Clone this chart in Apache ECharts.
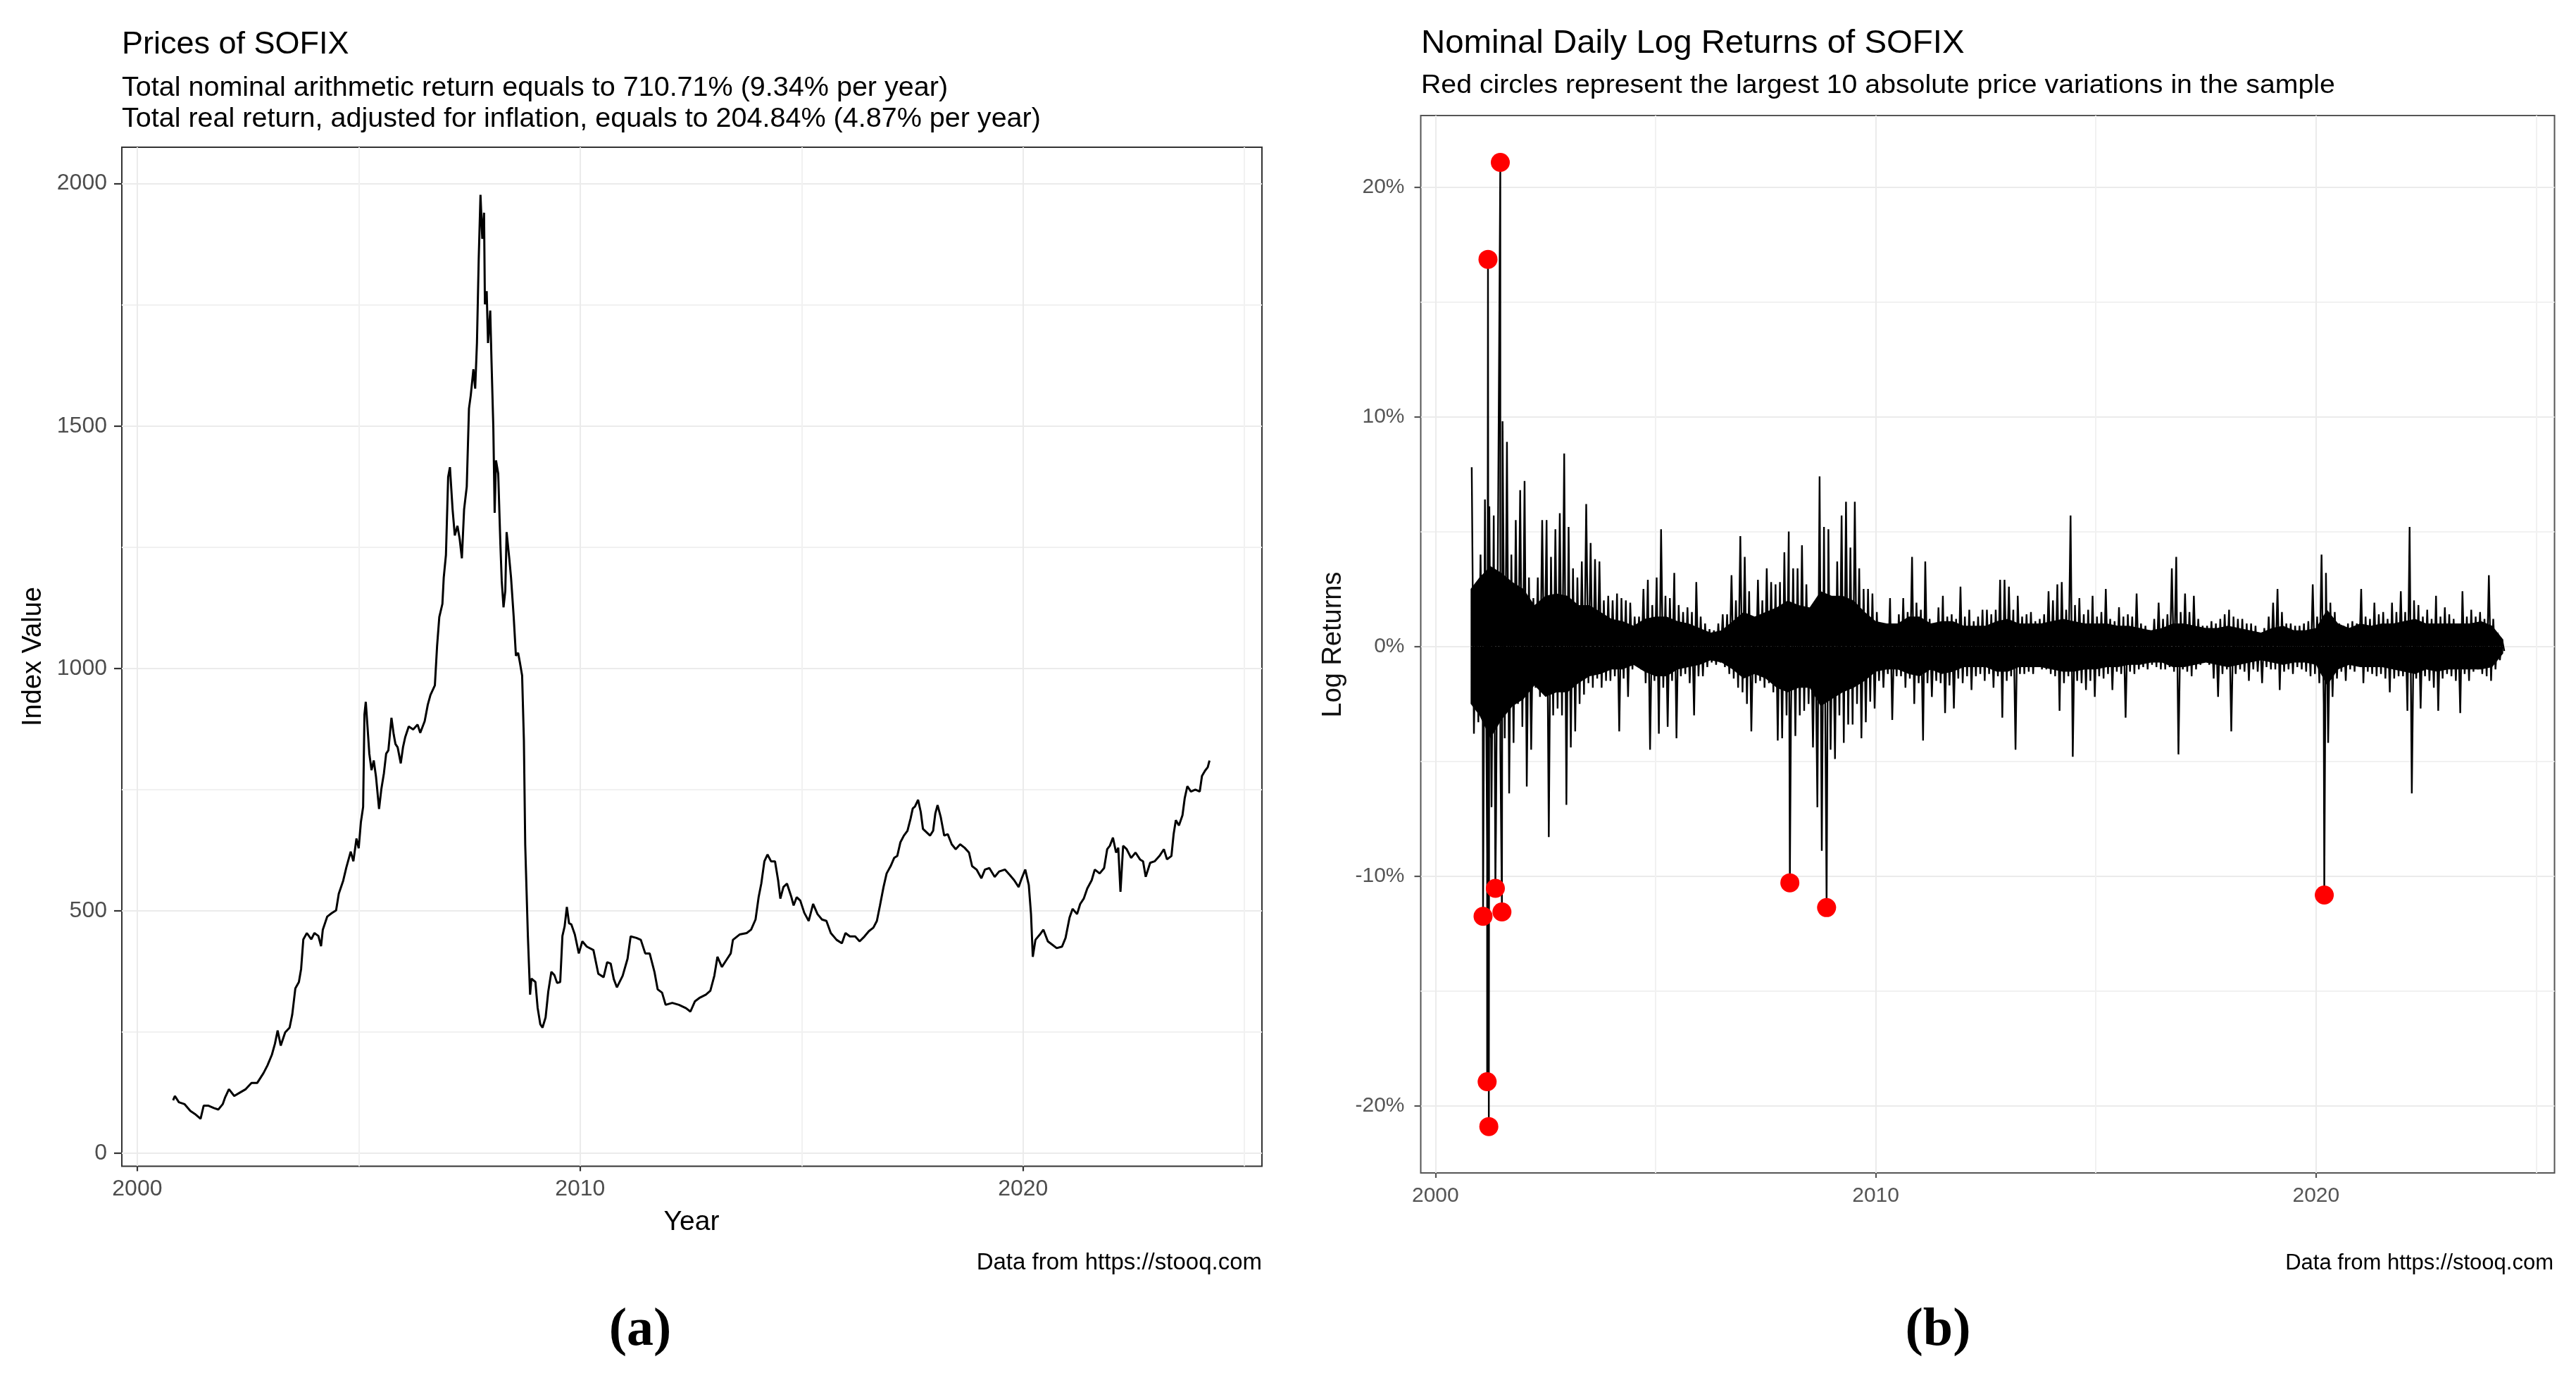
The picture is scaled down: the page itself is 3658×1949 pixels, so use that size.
<!DOCTYPE html>
<html>
<head>
<meta charset="utf-8">
<script src="https://cdn.jsdelivr.net/npm/echarts@6/dist/echarts.min.js"></script>
<style>
html,body{margin:0;padding:0;background:#ffffff;}
#chart{width:3658px;height:1949px;}
</style>
</head>
<body>
<div id="chart"></div>
<script>
// ---------- Panel (a): SOFIX prices ----------
const priceDates = [
  2000.81,2000.85,2000.94,2001.07,2001.20,2001.30,2001.43,2001.50,2001.60,2001.73,2001.83,2001.93,2001.98,
  2002.07,2002.19,2002.32,2002.45,2002.58,2002.71,2002.85,2002.94,
  2003.04,2003.11,2003.17,2003.24,2003.34,2003.44,2003.50,2003.57,2003.65,2003.70,2003.75,2003.83,2003.93,
  2004.00,2004.09,2004.15,2004.19,2004.29,2004.39,2004.49,2004.55,2004.65,2004.72,2004.82,2004.88,2004.95,
  2005.00,2005.05,2005.10,2005.13,2005.16,2005.20,2005.24,2005.29,2005.34,2005.39,2005.46,2005.51,2005.57,2005.62,2005.67,2005.74,2005.79,2005.83,2005.88,2005.95,
  2006.00,2006.05,2006.13,2006.23,2006.33,2006.39,2006.49,2006.56,2006.62,2006.72,2006.77,2006.82,2006.89,2006.92,2006.97,
  2007.02,2007.06,2007.12,2007.17,2007.23,2007.28,2007.33,2007.38,2007.44,2007.49,2007.53,2007.59,2007.63,2007.67,2007.71,2007.75,2007.79,2007.83,2007.85,2007.89,2007.92,2007.97,
  2008.00,2008.04,2008.07,2008.10,2008.15,2008.20,2008.23,2008.27,2008.31,2008.34,2008.40,2008.44,2008.50,2008.55,2008.60,2008.64,2008.69,2008.73,2008.76,2008.79,2008.82,2008.87,2008.90,2008.99,
  2009.04,2009.10,2009.15,2009.22,2009.28,2009.35,2009.42,2009.48,2009.55,2009.60,2009.65,2009.70,2009.75,2009.80,2009.88,2009.97,
  2010.05,2010.15,2010.30,2010.41,2010.53,2010.61,2010.69,2010.76,2010.83,2010.96,
  2011.07,2011.14,2011.27,2011.37,2011.47,2011.57,2011.68,2011.75,2011.85,2011.93,
  2012.08,2012.23,2012.39,2012.49,2012.59,2012.69,2012.84,2012.94,
  2013.03,2013.10,2013.20,2013.30,2013.40,2013.45,2013.60,2013.76,2013.86,2013.96,
  2014.03,2014.09,2014.16,2014.23,2014.31,2014.40,2014.47,2014.52,2014.59,2014.67,2014.77,2014.82,2014.89,2014.97,
  2015.06,2015.16,2015.26,2015.36,2015.46,2015.56,2015.66,2015.79,2015.91,2015.99,
  2016.09,2016.21,2016.31,2016.42,2016.52,2016.62,2016.70,2016.77,2016.85,2016.92,
  2017.01,2017.09,2017.16,2017.23,2017.31,2017.39,2017.46,2017.51,2017.56,2017.63,2017.69,2017.74,2017.82,2017.90,2017.97,
  2018.02,2018.07,2018.14,2018.22,2018.30,2018.39,2018.48,2018.58,2018.68,2018.78,2018.85,2018.95,
  2019.06,2019.14,2019.24,2019.36,2019.46,2019.59,2019.70,2019.80,2019.90,2019.97,
  2020.05,2020.13,2020.18,2020.22,2020.28,2020.38,2020.46,2020.56,2020.66,2020.76,2020.88,2020.96,
  2021.05,2021.12,2021.22,2021.29,2021.37,2021.45,2021.55,2021.62,2021.73,2021.83,2021.90,2021.96,
  2022.03,2022.10,2022.15,2022.20,2022.26,2022.34,2022.44,2022.54,2022.64,2022.71,2022.77,2022.87,2022.97,
  2023.08,2023.18,2023.25,2023.35,2023.40,2023.45,2023.52,2023.60,2023.65,2023.71,2023.79,2023.89,2023.99,
  2024.04,2024.11,2024.17,2024.21
];
const priceValues = [
  109,118,105,101,87,81,71,98,98,93,90,101,114,
  132,118,125,132,145,145,165,181,
  203,226,253,222,249,259,286,340,353,380,441,454,441,
  454,448,427,461,488,495,501,535,562,589,622,602,649,
  629,683,714,905,931,878,824,790,810,777,710,750,784,824,831,898,864,844,837,804,
  837,858,880,874,884,867,891,925,945,965,1046,1106,1133,1187,1234,
  1395,1415,1328,1274,1294,1267,1227,1328,1375,1536,1563,1617,1577,1671,1845,1977,1886,1940,1751,1778,1671,1738,
  1630,1496,1321,1429,1402,1254,1180,1126,1160,1281,1227,1187,1106,1026,1032,1012,985,851,636,542,448,327,360,353,
  300,266,259,280,333,374,367,351,353,448,468,508,474,472,451,412,
  437,426,419,370,363,394,391,359,342,366,
  401,447,444,440,412,412,373,338,331,306,
  310,306,299,292,313,320,327,335,
  366,405,384,398,412,440,451,454,461,482,
  528,556,602,616,602,602,563,525,549,556,528,511,528,521,
  496,479,514,493,482,479,454,440,433,454,
  447,447,437,447,458,465,479,511,549,577,
  592,609,613,641,655,665,690,711,715,729,704,669,662,655,665,
  701,718,694,655,658,637,627,637,630,620,592,585,
  567,585,588,570,581,585,574,563,549,567,
  585,553,493,405,440,451,461,437,430,423,426,444,
  486,504,493,514,525,546,563,585,577,588,627,634,
  651,620,630,539,634,627,609,620,606,602,570,599,602,
  613,627,606,613,658,687,676,697,732,757,746,750,746,
  778,789,796,810
];
const priceYTicks = [0, 500, 1000, 1500, 2000];
const priceYGrid = [0, 250, 500, 750, 1000, 1250, 1500, 1750, 2000];
const yearTicks = [2000, 2010, 2020];
const yearGrid = [2000, 2005, 2010, 2015, 2020, 2025];

// ---------- Panel (b): daily log returns (%), extremes per 0.1-year bin ----------
const retBinStart = 2000.8;
const retBinWidth = 0.1;
const retHi = [
  7.8, 2.4,                                              // 2000.8-2000.9
  4.0, 6.4, 6.1, 5.7, 6.0, 9.8, 8.9, 4.0, 5.5, 6.8,      // 2001
  7.2, 3.0, 2.1, 3.0, 5.5, 5.5, 3.9, 5.1, 5.8, 8.4,      // 2002
  5.2, 3.4, 3.0, 3.7, 6.2, 4.5, 3.8, 3.7, 2.0, 2.2,      // 2003
  2.0, 2.3, 2.1, 2.0, 1.9, 1.3, 1.3, 2.5, 2.9, 1.8,      // 2004
  3.0, 5.1, 2.2, 2.1, 3.2, 1.8, 1.5, 1.7, 1.5, 2.8,      // 2005
  1.3, 1.0, 0.75, 0.7, 1.0, 1.4, 1.4, 3.1, 2.0, 4.8,     // 2006
  3.9, 2.4, 1.2, 2.9, 2.0, 3.4, 2.8, 2.7, 2.8, 4.1,      // 2007
  5.0, 3.4, 3.4, 4.4, 2.7, 1.6, 1.5, 7.4, 5.2, 5.1,      // 2008
  1.9, 3.7, 5.7, 6.3, 4.3, 6.3, 3.4, 2.5, 2.5, 2.3,      // 2009
  1.5, 1.0, 0.7, 2.1, 0.9, 1.4, 2.1, 1.5, 3.9, 1.9,      // 2010
  1.6, 3.7, 1.2, 0.9, 1.7, 2.2, 1.3, 1.4, 1.2, 2.6,      // 2011
  1.3, 1.6, 1.1, 1.3, 1.6, 1.6, 1.4, 1.6, 2.9, 2.9,      // 2012
  2.6, 1.6, 2.2, 1.3, 1.4, 1.5, 1.1, 1.2, 1.4, 2.4,      // 2013
  2.0, 2.7, 2.8, 1.6, 5.7, 1.8, 2.1, 1.4, 1.6, 2.2,      // 2014
  1.3, 1.5, 2.5, 1.2, 1.1, 1.7, 1.3, 1.4, 1.3, 2.3,      // 2015
  1.0, 0.9, 0.7, 1.2, 1.9, 1.2, 1.4, 3.4, 3.9, 1.5,      // 2016
  2.3, 1.5, 2.2, 1.2, 0.9, 0.9, 1.1, 1.0, 1.2, 1.4,      // 2017
  1.6, 1.3, 1.2, 1.2, 1.0, 1.0, 0.9, 0.5, 0.8, 1.3,      // 2018
  1.9, 2.5, 1.5, 1.0, 1.0, 0.9, 0.9, 1.0, 1.1, 2.7,      // 2019
  1.3, 4.0, 3.2, 1.9, 1.5, 1.0, 0.9, 1.0, 1.1, 1.0,      // 2020
  2.5, 1.3, 1.2, 1.9, 1.4, 1.5, 1.2, 1.9, 1.5, 2.4,      // 2021
  1.5, 5.2, 2.0, 1.8, 1.3, 1.6, 1.2, 2.2, 1.3, 1.7,      // 2022
  1.4, 1.2, 1.0, 2.4, 1.3, 1.6, 1.3, 1.5, 1.2, 3.1,      // 2023
  1.2, 0.6, 0.3                                          // 2024
];
const retLo = [
  -3.8, -3.3,
  -3.0, -9.0, -7.0, -8.0, -4.5, -4.0, -6.4, -4.2, -2.5, -3.5,
  -6.1, -4.5, -1.8, -2.2, -1.6, -8.3, -3.0, -2.7, -3.0, -6.9,
  -4.4, -3.7, -2.5, -2.1, -1.6, -1.8, -1.4, -1.8, -1.5, -1.5,
  -1.3, -3.7, -1.4, -2.2, -1.0, -0.7, -1.0, -1.6, -4.5, -1.5,
  -3.8, -1.8, -3.5, -1.5, -4.0, -1.3, -1.2, -1.6, -3.0, -1.3,
  -1.3, -0.9, -0.7, -0.8, -0.7, -0.9, -1.2, -1.4, -1.8, -2.0,
  -2.5, -3.7, -1.6, -1.5, -1.8, -1.6, -2.0, -4.1, -4.0, -3.0,
  -3.0, -3.9, -3.0, -2.8, -2.5, -4.4, -7.0, -8.9, -8.5, -4.5,
  -4.9, -3.0, -4.2, -3.4, -3.4, -2.5, -4.0, -3.3, -2.4, -2.7,
  -1.5, -1.8, -1.2, -3.2, -1.3, -1.3, -1.8, -1.4, -2.5, -1.6,
  -4.1, -1.6, -2.2, -1.5, -1.6, -2.9, -1.7, -2.7, -1.4, -1.6,
  -1.3, -1.9, -1.3, -1.2, -1.5, -1.2, -1.8, -1.3, -3.1, -1.5,
  -1.3, -4.5, -1.2, -1.2, -1.1, -1.2, -0.9, -1.0, -1.0, -1.2,
  -1.3, -2.8, -1.6, -1.3, -4.8, -1.5, -1.6, -1.9, -1.5, -2.2,
  -1.3, -1.4, -1.2, -1.9, -1.1, -1.2, -3.1, -1.1, -1.2, -1.0,
  -0.9, -1.0, -0.8, -0.9, -1.0, -1.0, -0.9, -1.1, -4.7, -1.0,
  -1.1, -1.3, -1.0, -0.8, -0.6, -0.8, -1.4, -2.2, -1.2, -1.0,
  -3.7, -1.2, -1.0, -1.1, -1.5, -1.0, -1.1, -1.6, -0.9, -1.0,
  -1.0, -1.9, -1.1, -1.0, -1.2, -0.9, -1.0, -1.1, -1.3, -1.2,
  -1.6, -2.5, -4.2, -2.2, -1.4, -1.1, -1.5, -1.0, -1.1, -0.8,
  -1.6, -1.1, -1.2, -1.3, -1.2, -1.4, -2.0, -1.4, -1.3, -1.3,
  -2.8, -6.4, -1.4, -2.7, -1.3, -1.5, -1.8, -2.8, -1.4, -1.2,
  -1.3, -1.5, -2.9, -1.2, -1.5, -1.1, -1.0, -1.2, -1.3, -1.5,
  -1.0, -0.6, -0.2
];
// dense core of the daily returns (the solid black band), read per quarter-year
const coreDates = [
  2000.80, 2001.00, 2001.25, 2001.50, 2001.75, 2002.00, 2002.25, 2002.50, 2002.75,
  2003.00, 2003.25, 2003.50, 2003.75, 2004.00, 2004.25, 2004.50, 2004.75,
  2005.00, 2005.25, 2005.50, 2005.75, 2006.00, 2006.25, 2006.50, 2006.75,
  2007.00, 2007.25, 2007.50, 2007.75, 2008.00, 2008.25, 2008.50, 2008.75,
  2009.00, 2009.25, 2009.50, 2009.75, 2010.00, 2010.25, 2010.50, 2010.75,
  2011.00, 2011.25, 2011.50, 2011.75, 2012.00, 2012.25, 2012.50, 2012.75,
  2013.00, 2013.25, 2013.50, 2013.75, 2014.00, 2014.25, 2014.50, 2014.75,
  2015.00, 2015.25, 2015.50, 2015.75, 2016.00, 2016.25, 2016.50, 2016.75,
  2017.00, 2017.25, 2017.50, 2017.75, 2018.00, 2018.25, 2018.50, 2018.75,
  2019.00, 2019.25, 2019.50, 2019.75, 2020.00, 2020.25, 2020.50, 2020.75,
  2021.00, 2021.25, 2021.50, 2021.75, 2022.00, 2022.25, 2022.50, 2022.75,
  2023.00, 2023.25, 2023.50, 2023.75, 2024.00, 2024.25
];
const coreHi = [
  2.5, 3.0, 3.5, 3.2, 2.8, 2.5, 1.8, 2.2, 2.3,
  2.2, 1.8, 1.8, 1.5, 1.2, 1.1, 0.9, 1.2,
  1.3, 1.3, 1.1, 1.0, 0.8, 0.6, 0.7, 1.1,
  1.5, 1.3, 1.5, 1.7, 2.0, 1.8, 1.7, 2.4,
  2.2, 2.2, 2.0, 1.5, 1.1, 1.0, 1.0, 1.3,
  1.3, 1.0, 1.1, 1.1, 0.9, 0.9, 0.9, 1.1,
  1.2, 1.0, 1.0, 1.0, 1.1, 1.2, 1.1, 1.0,
  1.0, 1.0, 0.9, 0.9, 0.8, 0.7, 0.8, 1.0,
  1.0, 0.9, 0.8, 0.8, 0.9, 0.8, 0.7, 0.6,
  0.8, 0.9, 0.7, 0.7, 0.8, 1.6, 1.0, 0.8,
  1.0, 0.9, 1.0, 1.0, 1.1, 1.2, 1.0, 1.0,
  1.0, 1.0, 1.0, 1.1, 0.9, 0.3
];
const coreLo = [
  -2.5, -3.0, -4.0, -3.2, -2.6, -2.3, -1.7, -2.2, -2.0,
  -2.0, -1.6, -1.3, -1.2, -1.0, -1.0, -0.8, -1.1,
  -1.3, -1.3, -1.0, -0.9, -0.8, -0.6, -0.7, -1.0,
  -1.4, -1.2, -1.4, -1.8, -2.0, -1.8, -1.8, -2.6,
  -2.3, -2.0, -1.8, -1.5, -1.1, -1.0, -1.0, -1.2,
  -1.3, -1.0, -1.2, -1.1, -0.9, -0.9, -0.9, -1.1,
  -1.1, -0.9, -0.9, -0.9, -1.0, -1.1, -1.1, -1.0,
  -1.0, -0.9, -0.9, -0.8, -0.8, -0.7, -0.7, -0.9,
  -0.9, -0.8, -0.7, -0.8, -0.9, -0.8, -0.7, -0.6,
  -0.7, -0.8, -0.7, -0.7, -0.8, -1.7, -1.0, -0.8,
  -0.9, -0.9, -0.9, -1.0, -1.1, -1.2, -1.0, -1.1,
  -1.0, -1.0, -1.0, -1.0, -0.9, -0.3
];
// the 10 largest absolute daily variations (red circles)
const extremeDates  = [2001.082, 2001.175, 2001.194, 2001.213, 2001.362, 2001.474, 2001.511, 2008.050, 2008.884, 2020.187];
const extremeValues = [-11.75,   -18.95,   16.85,    -20.90,   -10.53,   21.07,    -11.56,   -10.29,   -11.37,   -10.82];
const retYTicks = [-20, -10, 0, 10, 20];
const retYGrid = [-20, -15, -10, -5, 0, 5, 10, 15, 20];

// ---------- build series data ----------
const priceData = priceDates.map((d, i) => [d, priceValues[i]]);
const retData = [];
retHi.forEach((v, i) => {
  const t = retBinStart + i * retBinWidth;
  retData.push([+(t + 0.025).toFixed(3), v]);
  retData.push([+(t + 0.075).toFixed(3), retLo[i]]);
});
extremeDates.forEach((d, i) => retData.push([d, extremeValues[i]]));
retData.sort((a, b) => a[0] - b[0]);
const extremeData = extremeDates.map((d, i) => [d, extremeValues[i]]);
const coreHiData = coreDates.map((d, i) => [d, coreHi[i]]);
const coreLoData = coreDates.map((d, i) => [d, coreLo[i]]);

const FONT = 'Liberation Sans, Arial, sans-serif';
const gridColors = ['#EBEBEB', '#F1F1F1'];

// primary axis: major ticks + labels
function mainAxis(grid, pos, min, max, tickVals, fmt, margin, fs, col, tickLen, tickCol) {
  return {
    gridIndex: grid, type: 'value', position: pos, min: min, max: max,
    axisLine: {show: false, onZero: false},
    axisTick: {show: true, customValues: tickVals, length: tickLen, lineStyle: {color: tickCol, width: 2.2}},
    splitLine: {show: false},
    axisLabel: {show: true, customValues: tickVals, formatter: fmt, margin: margin,
                fontSize: fs, color: col, fontFamily: FONT}
  };
}
// overlay axis: only the major + minor grid lines
function gridAxis(grid, pos, min, max, gridVals) {
  return {
    gridIndex: grid, type: 'value', position: pos, min: min, max: max, offset: 0,
    axisLine: {show: false, onZero: false},
    axisTick: {show: false, customValues: gridVals},
    splitLine: {show: true, lineStyle: {color: gridColors, width: 2}},
    axisLabel: {show: false}
  };
}

const chart = echarts.init(document.getElementById('chart'), null, {renderer: 'canvas'});
chart.setOption({
  animation: false,
  backgroundColor: '#ffffff',
  grid: [
    {left: 173, top: 209, width: 1619, height: 1446.5, show: true, borderColor: '#333333', borderWidth: 2, backgroundColor: 'transparent'},
    {left: 2017.5, top: 164, width: 1610, height: 1501, show: true, borderColor: '#555555', borderWidth: 2, backgroundColor: 'transparent'}
  ],
  xAxis: [
    mainAxis(0, 'bottom', 1999.652, 2025.394, yearTicks, v => String(v), 17, 32, '#4D4D4D', 7, '#333333'),
    gridAxis(0, 'bottom', 1999.652, 2025.394, yearGrid),
    mainAxis(1, 'bottom', 1999.667, 2025.416, yearTicks, v => String(v), 18, 30, '#555555', 7, '#555555'),
    gridAxis(1, 'bottom', 1999.667, 2025.416, yearGrid)
  ],
  yAxis: [
    mainAxis(0, 'left', -27, 2075, priceYTicks, v => String(v), 21, 32, '#4D4D4D', 11, '#333333'),
    gridAxis(0, 'left', -27, 2075, priceYGrid),
    mainAxis(1, 'left', -22.92, 23.11, retYTicks, v => v + '%', 23, 30, '#555555', 9, '#555555'),
    gridAxis(1, 'left', -22.92, 23.11, retYGrid)
  ],
  series: [
    {type: 'line', name: 'Price', xAxisIndex: 0, yAxisIndex: 0, data: priceData,
     showSymbol: false, symbol: 'none', lineStyle: {color: '#000000', width: 3}, z: 3},
    {type: 'line', name: 'Core up', xAxisIndex: 2, yAxisIndex: 2, data: coreHiData,
     showSymbol: false, symbol: 'none', lineStyle: {width: 0, opacity: 0}, areaStyle: {color: '#000000', opacity: 1, origin: 'auto'}, z: 2},
    {type: 'line', name: 'Core down', xAxisIndex: 2, yAxisIndex: 2, data: coreLoData,
     showSymbol: false, symbol: 'none', lineStyle: {width: 0, opacity: 0}, areaStyle: {color: '#000000', opacity: 1, origin: 'auto'}, z: 2},
    {type: 'line', name: 'Log Returns', xAxisIndex: 2, yAxisIndex: 2, data: retData,
     showSymbol: false, symbol: 'none', lineStyle: {color: '#000000', width: 2.4}, z: 3},
    {type: 'scatter', name: 'Largest variations', xAxisIndex: 2, yAxisIndex: 2, data: extremeData,
     symbol: 'circle', symbolSize: 27, itemStyle: {color: '#FF0000', opacity: 1}, z: 5}
  ],
  graphic: [
    {type: 'text', x: 173, y: 64, style: {text: 'Prices of SOFIX', fontSize: 45, fontFamily: FONT, fill: '#000', align: 'left', verticalAlign: 'middle'}},
    {type: 'text', x: 173, y: 125.7, scaleX: 1.04, style: {text: 'Total nominal arithmetic return equals to 710.71% (9.34% per year)', fontSize: 38, fontFamily: FONT, fill: '#000', align: 'left', verticalAlign: 'middle'}},
    {type: 'text', x: 173, y: 169.1, scaleX: 1.04, style: {text: 'Total real return, adjusted for inflation, equals to 204.84% (4.87% per year)', fontSize: 38, fontFamily: FONT, fill: '#000', align: 'left', verticalAlign: 'middle'}},
    {type: 'text', x: 48, y: 932, rotation: Math.PI / 2, style: {text: 'Index Value', fontSize: 38, fontFamily: FONT, fill: '#000', align: 'center', verticalAlign: 'middle'}},
    {type: 'text', x: 982, y: 1735, style: {text: 'Year', fontSize: 39, fontFamily: FONT, fill: '#000', align: 'center', verticalAlign: 'middle'}},
    {type: 'text', x: 1792, y: 1793, style: {text: 'Data from https://stooq.com', fontSize: 33, fontFamily: FONT, fill: '#000', align: 'right', verticalAlign: 'middle'}},
    {type: 'text', x: 2018, y: 62, scaleX: 1.03, style: {text: 'Nominal Daily Log Returns of SOFIX', fontSize: 46, fontFamily: FONT, fill: '#000', align: 'left', verticalAlign: 'middle'}},
    {type: 'text', x: 2018, y: 122, scaleX: 1.09, style: {text: 'Red circles represent the largest 10 absolute price variations in the sample', fontSize: 36, fontFamily: FONT, fill: '#000', align: 'left', verticalAlign: 'middle'}},
    {type: 'text', x: 1894, y: 915, rotation: Math.PI / 2, style: {text: 'Log Returns', fontSize: 38, fontFamily: FONT, fill: '#111', align: 'center', verticalAlign: 'middle'}},
    {type: 'text', x: 3626, y: 1793, style: {text: 'Data from https://stooq.com', fontSize: 31, fontFamily: FONT, fill: '#000', align: 'right', verticalAlign: 'middle'}},
    {type: 'text', x: 909, y: 1889, style: {text: '(a)', fontSize: 76, fontWeight: 'bold', fontFamily: 'Liberation Serif, Times New Roman, serif', fill: '#000', align: 'center', verticalAlign: 'middle'}},
    {type: 'text', x: 2752, y: 1889, style: {text: '(b)', fontSize: 76, fontWeight: 'bold', fontFamily: 'Liberation Serif, Times New Roman, serif', fill: '#000', align: 'center', verticalAlign: 'middle'}}
  ]
});
</script>
</body>
</html>
